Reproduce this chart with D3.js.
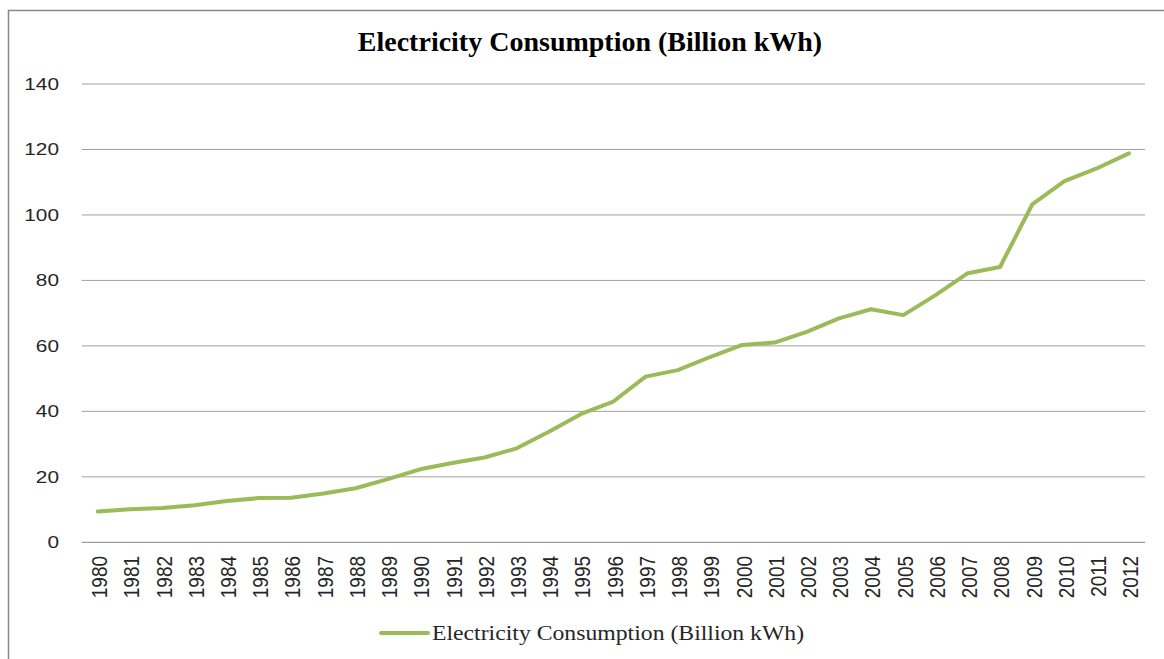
<!DOCTYPE html>
<html>
<head>
<meta charset="utf-8">
<script src="https://cdn.jsdelivr.net/npm/d3@7"></script>
<style>
  html, body { margin: 0; padding: 0; background: #fff; }
  svg { display: block; }
</style>
</head>
<body>
<svg id="chart" width="1164" height="659"></svg>
<script>
// Annual electricity consumption, billion kWh
const years = ["1980","1981","1982","1983","1984","1985","1986","1987","1988","1989",
  "1990","1991","1992","1993","1994","1995","1996","1997","1998","1999",
  "2000","2001","2002","2003","2004","2005","2006","2007","2008","2009",
  "2010","2011","2012"];
const consumption = [9.4, 10.1, 10.5, 11.3, 12.6, 13.5, 13.6, 14.9, 16.5, 19.3,
  22.3, 24.2, 25.9, 28.7, 33.8, 39.2, 43.0, 50.6, 52.6, 56.6,
  60.3, 61.0, 64.3, 68.4, 71.2, 69.4, 75.5, 82.2, 84.1, 103.2,
  110.3, 114.2, 118.8];
const yTicks = [0, 20, 40, 60, 80, 100, 120, 140];
const chartTitle = "Electricity Consumption (Billion kWh)";
const seriesName = "Electricity Consumption (Billion kWh)";

const svg = d3.select("#chart");
const plot = { left: 81.7, right: 1145, top: 84, bottom: 542.3 };

// outer frame
svg.append("rect")
  .attr("x", 8.5).attr("y", 10.5)
  .attr("width", 1200).attr("height", 700)
  .attr("fill", "none").attr("stroke", "#888").attr("stroke-width", 1.5);

const x = d3.scaleBand().domain(years).range([plot.left, plot.right]).padding(0);
const y = d3.scaleLinear().domain([0, 140]).range([plot.bottom, plot.top]);

// horizontal gridlines
svg.append("g").selectAll("line").data(yTicks).join("line")
  .attr("x1", plot.left).attr("x2", plot.right)
  .attr("y1", d => y(d)).attr("y2", d => y(d))
  .attr("stroke", d => d === 0 ? "#868686" : "#a0a0a0")
  .attr("stroke-width", 1);

// y tick labels
svg.append("g").selectAll("text").data(yTicks).join("text")
  .attr("transform", d => `translate(59,${y(d)}) scale(1.3,1)`)
  .attr("text-anchor", "end")
  .attr("dy", "0.36em")
  .attr("font-family", "'Liberation Sans', Arial, sans-serif")
  .attr("font-size", 16)
  .attr("fill", "#262626")
  .text(d => d);

// x category labels, rotated
svg.append("g").selectAll("text").data(years).join("text")
  .attr("transform", d => `translate(${x(d) + x.bandwidth() / 2 + 1.5},556) rotate(-90) scale(1,1.14)`)
  .attr("text-anchor", "end")
  .attr("dy", "0.36em")
  .attr("font-family", "'Liberation Sans', Arial, sans-serif")
  .attr("font-size", 19)
  .attr("fill", "#262626")
  .text(d => d);

// series line
const line = d3.line()
  .x((d, i) => x(years[i]) + x.bandwidth() / 2)
  .y(d => y(d));

svg.append("path")
  .datum(consumption)
  .attr("d", line)
  .attr("fill", "none")
  .attr("stroke", "#9BBB59")
  .attr("stroke-width", 4)
  .attr("stroke-linejoin", "round")
  .attr("stroke-linecap", "round");

// title
svg.append("text")
  .attr("x", 590).attr("y", 51)
  .attr("text-anchor", "middle")
  .attr("font-family", "'Liberation Serif', 'Times New Roman', serif")
  .attr("font-weight", "bold")
  .attr("font-size", 28)
  .attr("fill", "#000")
  .text(chartTitle);

// legend
const legend = svg.append("g");
legend.append("line")
  .attr("x1", 381).attr("x2", 428)
  .attr("y1", 633).attr("y2", 633)
  .attr("stroke", "#9BBB59").attr("stroke-width", 4)
  .attr("stroke-linecap", "round");
legend.append("text")
  .attr("transform", "translate(432,640) scale(1.13,1)")
  .attr("font-family", "'Liberation Serif', 'Times New Roman', serif")
  .attr("font-size", 21)
  .attr("fill", "#262626")
  .text(seriesName);
</script>
</body>
</html>
